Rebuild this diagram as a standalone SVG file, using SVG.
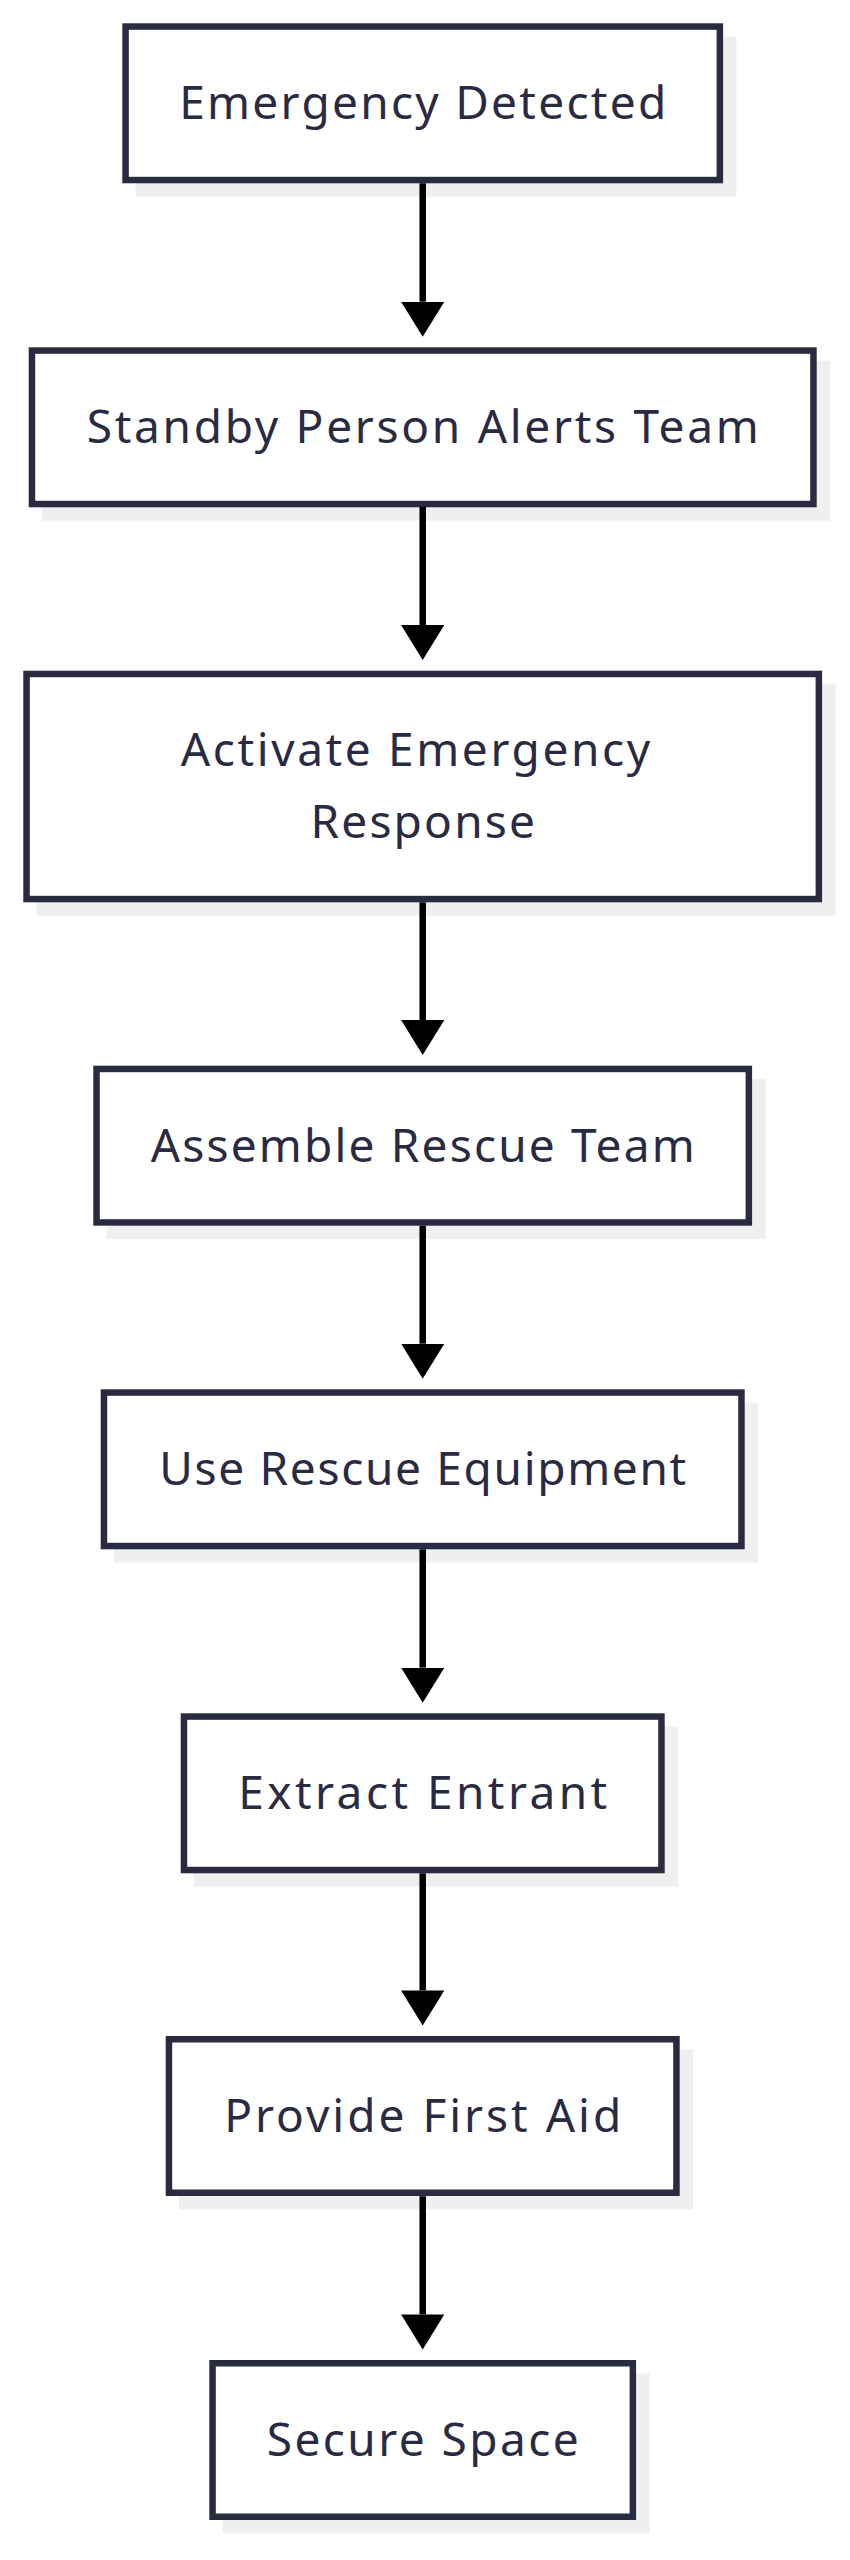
<svg xmlns="http://www.w3.org/2000/svg" width="850" height="2560" viewBox="0 0 850 2560">
<style>
.shadow{fill:#efefef;stroke:none}
.box{fill:#ffffff;stroke:#2a2a40;stroke-width:6.5}
.label{font-family:"Noto Sans","Liberation Sans",sans-serif;font-size:46px;fill:#2a2a42;text-anchor:middle}
.edge{stroke:#000000;stroke-width:6.5;fill:none}
</style>
<defs>
<marker id="arrow" markerUnits="userSpaceOnUse" markerWidth="36" markerHeight="44" refX="0" refY="21.6" orient="auto" viewBox="0 0 36 44">
<path d="M0,0 L35,21.6 L0,43.2 z" fill="#000000"/>
</marker>
</defs>
<rect width="850" height="2560" fill="#ffffff"/>
<g id="node1">
<rect class="shadow" x="135.7" y="36.7" width="600.8" height="160"/>
<rect class="box" x="125.55" y="26.55" width="594.3" height="153.5"/>
<text class="label" x="422.7" y="119.3" textLength="487" lengthAdjust="spacing">Emergency Detected</text>
</g>
<g id="node2">
<rect class="shadow" x="42.1" y="360.7" width="788" height="160"/>
<rect class="box" x="31.95" y="350.55" width="781.5" height="153.5"/>
<text class="label" x="422.7" y="442.7" textLength="672" lengthAdjust="spacing">Standby Person Alerts Team</text>
</g>
<g id="node3">
<rect class="shadow" x="36.7" y="684.1" width="798.8" height="231.6"/>
<rect class="box" x="26.55" y="673.95" width="792.3" height="225.1"/>
<text class="label" x="415.5" y="766" textLength="469.5" lengthAdjust="spacing">Activate Emergency</text>
<text class="label" x="422.7" y="838.3" textLength="224.6" lengthAdjust="spacing">Response</text>
</g>
<g id="node4">
<rect class="shadow" x="106.7" y="1079.1" width="658.8" height="160"/>
<rect class="box" x="96.55" y="1068.95" width="652.3" height="153.5"/>
<text class="label" x="422.7" y="1161.7" textLength="544" lengthAdjust="spacing">Assemble Rescue Team</text>
</g>
<g id="node5">
<rect class="shadow" x="114.1" y="1402.7" width="644" height="160"/>
<rect class="box" x="103.95" y="1392.55" width="637.5" height="153.5"/>
<text class="label" x="422.7" y="1485.3" textLength="527" lengthAdjust="spacing">Use Rescue Equipment</text>
</g>
<g id="node6">
<rect class="shadow" x="194.1" y="1726.7" width="484" height="160"/>
<rect class="box" x="183.95" y="1716.55" width="477.5" height="153.5"/>
<text class="label" x="422.7" y="1809.3" textLength="369" lengthAdjust="spacing">Extract Entrant</text>
</g>
<g id="node7">
<rect class="shadow" x="179.1" y="2049.4" width="514" height="160"/>
<rect class="box" x="168.95" y="2039.25" width="507.5" height="153.5"/>
<text class="label" x="422.7" y="2132" textLength="397" lengthAdjust="spacing">Provide First Aid</text>
</g>
<g id="node8">
<rect class="shadow" x="222.7" y="2373.4" width="426.8" height="160"/>
<rect class="box" x="212.55" y="2363.25" width="420.3" height="153.5"/>
<text class="label" x="422.7" y="2456" textLength="312" lengthAdjust="spacing">Secure Space</text>
</g>
<g id="connectors">
<line class="edge" x1="422.7" y1="183.3" x2="422.7" y2="301.7" marker-end="url(#arrow)"/>
<line class="edge" x1="422.7" y1="506.7" x2="422.7" y2="625.1" marker-end="url(#arrow)"/>
<line class="edge" x1="422.7" y1="902.3" x2="422.7" y2="1020.1" marker-end="url(#arrow)"/>
<line class="edge" x1="422.7" y1="1225.7" x2="422.7" y2="1343.7" marker-end="url(#arrow)"/>
<line class="edge" x1="422.7" y1="1549.3" x2="422.7" y2="1667.7" marker-end="url(#arrow)"/>
<line class="edge" x1="422.7" y1="1873.3" x2="422.7" y2="1990.4" marker-end="url(#arrow)"/>
<line class="edge" x1="422.7" y1="2196.2" x2="422.7" y2="2314.4" marker-end="url(#arrow)"/>
</g>
</svg>
